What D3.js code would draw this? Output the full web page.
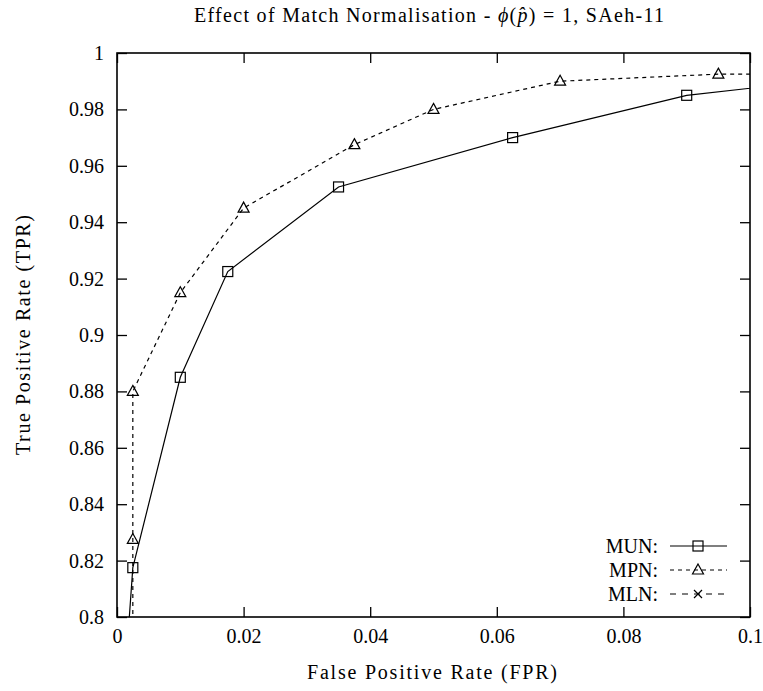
<!DOCTYPE html>
<html>
<head>
<meta charset="utf-8">
<script src="https://cdn.jsdelivr.net/npm/d3@7"></script>
<style>
  body { margin: 0; background: #fff; }
  text { font-family: "Liberation Serif", "DejaVu Serif", serif; fill: #000; }
</style>
</head>
<body>
<div id="chart"></div>
<script>
// values
const xTicks = [0, 0.02, 0.04, 0.06, 0.08, 0.1];
const yTicks = [0.8, 0.82, 0.84, 0.86, 0.88, 0.9, 0.92, 0.94, 0.96, 0.98, 1];

const munFpr = [0.001, 0.0025, 0.01, 0.0175, 0.035, 0.0625, 0.09, 0.12];
const munTpr = [0.77, 0.8175, 0.885, 0.9225, 0.9525, 0.97, 0.985, 0.9925];

const mpnFpr = [0.0025, 0.0025, 0.0025, 0.01, 0.02, 0.0375, 0.05, 0.07, 0.095, 0.12];
const mpnTpr = [0.75, 0.8275, 0.88, 0.915, 0.945, 0.9675, 0.98, 0.99, 0.9925, 0.9925];

// MLN has no points inside the visible window
const mlnFpr = [];
const mlnTpr = [];

let width = 763, height = 691;
let margin = { top: 53, right: 13, bottom: 74, left: 117 };

let svg = d3.select("#chart").append("svg")
  .attr("width", width)
  .attr("height", height);

let x = d3.scaleLinear().domain([0, 0.1]).range([margin.left, width - margin.right]);
let y = d3.scaleLinear().domain([0.8, 1]).range([height - margin.bottom, margin.top]);

let toPts = (xs, ys) => xs.map((v, i) => ({ fpr: v, tpr: ys[i] }));
let series = [
  { name: "MUN", pts: toPts(munFpr, munTpr), dash: null, marker: "square" },
  { name: "MPN", pts: toPts(mpnFpr, mpnTpr), dash: "4,4", marker: "triangle" },
  { name: "MLN", pts: toPts(mlnFpr, mlnTpr), dash: "6,6", marker: "cross" }
];

svg.append("defs").append("clipPath").attr("id", "clip")
  .append("rect")
  .attr("x", margin.left).attr("y", margin.top)
  .attr("width", width - margin.right - margin.left)
  .attr("height", height - margin.bottom - margin.top);

// axes, ticks drawn inward on all four sides
let tickLen = 10;
let fmt = d => +d.toFixed(2);
let xAxis = svg.append("g")
  .attr("transform", `translate(0,${height - margin.bottom})`)
  .call(d3.axisBottom(x).tickValues(xTicks).tickSize(-tickLen).tickPadding(12).tickFormat(fmt));
let xTop = svg.append("g")
  .attr("transform", `translate(0,${margin.top})`)
  .call(d3.axisTop(x).tickValues(xTicks).tickSize(-tickLen).tickFormat(""));
let yAxis = svg.append("g")
  .attr("transform", `translate(${margin.left},0)`)
  .call(d3.axisLeft(y).tickValues(yTicks).tickSize(-tickLen).tickPadding(13).tickFormat(fmt));
let yRight = svg.append("g")
  .attr("transform", `translate(${width - margin.right},0)`)
  .call(d3.axisRight(y).tickValues(yTicks).tickSize(-tickLen).tickFormat(""));

[xAxis, xTop, yAxis, yRight].forEach(g => {
  g.select(".domain").remove();
  g.selectAll("line").attr("stroke", "#000").attr("stroke-width", 1.3);
  g.selectAll("text").style("font-size", "20px").style("font-family", "Liberation Serif, serif");
});

svg.append("rect")
  .attr("x", margin.left).attr("y", margin.top)
  .attr("width", width - margin.right - margin.left)
  .attr("height", height - margin.bottom - margin.top)
  .attr("fill", "none").attr("stroke", "#000").attr("stroke-width", 1.6);

let line = d3.line().x(d => x(d.fpr)).y(d => y(d.tpr));

function drawMarker(g, type, cx, cy) {
  if (type === "square") {
    g.append("rect").attr("x", cx - 5).attr("y", cy - 5).attr("width", 10).attr("height", 10)
      .attr("fill", "none").attr("stroke", "#000").attr("stroke-width", 1.2);
  } else if (type === "triangle") {
    g.append("path").attr("d", `M${cx},${cy - 6}L${cx + 5.5},${cy + 4}L${cx - 5.5},${cy + 4}Z`)
      .attr("fill", "none").attr("stroke", "#000").attr("stroke-width", 1.2);
  } else {
    g.append("path").attr("d", `M${cx - 4},${cy - 4}L${cx + 4},${cy + 4}M${cx - 4},${cy + 4}L${cx + 4},${cy - 4}`)
      .attr("stroke", "#000").attr("stroke-width", 1.2);
  }
}

let plot = svg.append("g").attr("clip-path", "url(#clip)");
series.forEach(s => {
  plot.append("path")
    .datum(s.pts)
    .attr("d", line)
    .attr("fill", "none")
    .attr("stroke", "#000")
    .attr("stroke-width", 1.2)
    .attr("stroke-dasharray", s.dash);
  let mg = plot.append("g");
  s.pts.filter(d => d.fpr <= 0.1 && d.tpr >= 0.8 && d.tpr <= 1)
    .forEach(d => drawMarker(mg, s.marker, x(d.fpr), y(d.tpr)));
});

// legend
let legend = svg.append("g");
series.forEach((s, i) => {
  let ly = 546 + i * 24;
  legend.append("text")
    .attr("x", 658).attr("y", ly + 7)
    .attr("text-anchor", "end")
    .style("font-size", "20px")
    .text(s.name + ":");
  legend.append("line")
    .attr("x1", 670).attr("x2", 727).attr("y1", ly).attr("y2", ly)
    .attr("stroke", "#000").attr("stroke-width", 1.2)
    .attr("stroke-dasharray", s.dash);
  drawMarker(legend, s.marker, 698, ly);
});

// titles
svg.append("text")
  .attr("x", 429).attr("y", 22)
  .attr("text-anchor", "middle")
  .attr("textLength", 470)
  .attr("lengthAdjust", "spacing")
  .style("font-size", "20px")
  .html("Effect of Match Normalisation - <tspan font-style='italic'>ϕ</tspan>(<tspan font-style='italic'>p̂</tspan>) = 1, SAeh-11");

svg.append("text")
  .attr("x", 432).attr("y", 679)
  .attr("text-anchor", "middle")
  .attr("textLength", 250)
  .attr("lengthAdjust", "spacing")
  .style("font-size", "20px")
  .text("False Positive Rate (FPR)");

svg.append("text")
  .attr("transform", "translate(30,335) rotate(-90)")
  .attr("text-anchor", "middle")
  .attr("textLength", 240)
  .attr("lengthAdjust", "spacing")
  .style("font-size", "20px")
  .text("True Positive Rate (TPR)");
</script>
</body>
</html>
